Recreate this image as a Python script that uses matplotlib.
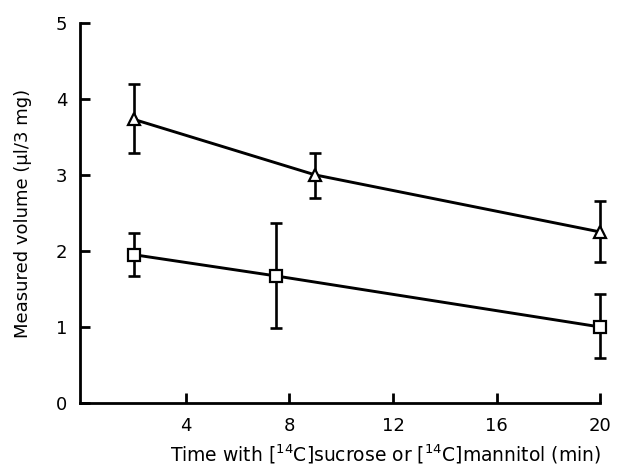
import matplotlib
matplotlib.use("Agg")
import matplotlib.pyplot as plt

plt.rcParams['font.family'] = ['DejaVu Sans']
plt.rcParams['mathtext.fontset'] = 'dejavusans'

# Triangle series
tri_x = [2, 9, 20]
tri_y = [3.73, 3.00, 2.25]
tri_lo = [3.29, 2.70, 1.85]
tri_hi = [4.20, 3.29, 2.66]

# Square series
sq_x = [2, 7.5, 20]
sq_y = [1.95, 1.67, 1.00]
sq_lo = [1.67, 0.98, 0.59]
sq_hi = [2.24, 2.37, 1.43]

xticks = [4, 8, 12, 16, 20]
yticks = [0, 1, 2, 3, 4, 5]

fig = plt.figure(figsize=(6.18, 4.68), dpi=100)
ax = fig.add_axes([0.129, 0.139, 0.842, 0.812])

def draw(x, y, lo, hi, marker):
    yerr = [[yi - l for yi, l in zip(y, lo)], [h - yi for yi, h in zip(y, hi)]]
    eb = ax.errorbar(x, y, yerr=yerr, fmt='none', ecolor='black', elinewidth=1.9,
                     capsize=4.5, capthick=1.9, zorder=2)
    for art in eb.lines[1] + eb.lines[2]:
        art.set_clip_on(False)
    ax.plot(x, y, color='black', lw=2.1, marker=marker, markersize=8.5,
            markerfacecolor='white', markeredgecolor='black', markeredgewidth=1.6,
            zorder=3, clip_on=False)

draw(tri_x, tri_y, tri_lo, tri_hi, '^')
draw(sq_x, sq_y, sq_lo, sq_hi, 's')

ax.set_xlim(-0.1, 20)
ax.set_ylim(0, 5)
ax.set_xticks(xticks)
ax.set_yticks(yticks)
ax.set_xticklabels([str(t) for t in xticks])
ax.set_yticklabels([str(t) for t in yticks])

for s in ['top', 'right']:
    ax.spines[s].set_visible(False)
for s in ['left', 'bottom']:
    ax.spines[s].set_linewidth(2.0)

ax.tick_params(axis='both', direction='in', length=7, width=2.0, labelsize=13)
ax.tick_params(axis='x', pad=10)
ax.tick_params(axis='y', pad=9)

ax.set_ylabel('Measured volume (µl/3 mg)', fontsize=13)
ax.yaxis.set_label_coords(-0.092, 0.5)
ax.set_xlabel('Time with [$^{14}$C]sucrose or [$^{14}$C]mannitol (min)', fontsize=13.5)
ax.xaxis.set_label_coords(0.587, -0.105)

fig.savefig('out.png', dpi=100)
